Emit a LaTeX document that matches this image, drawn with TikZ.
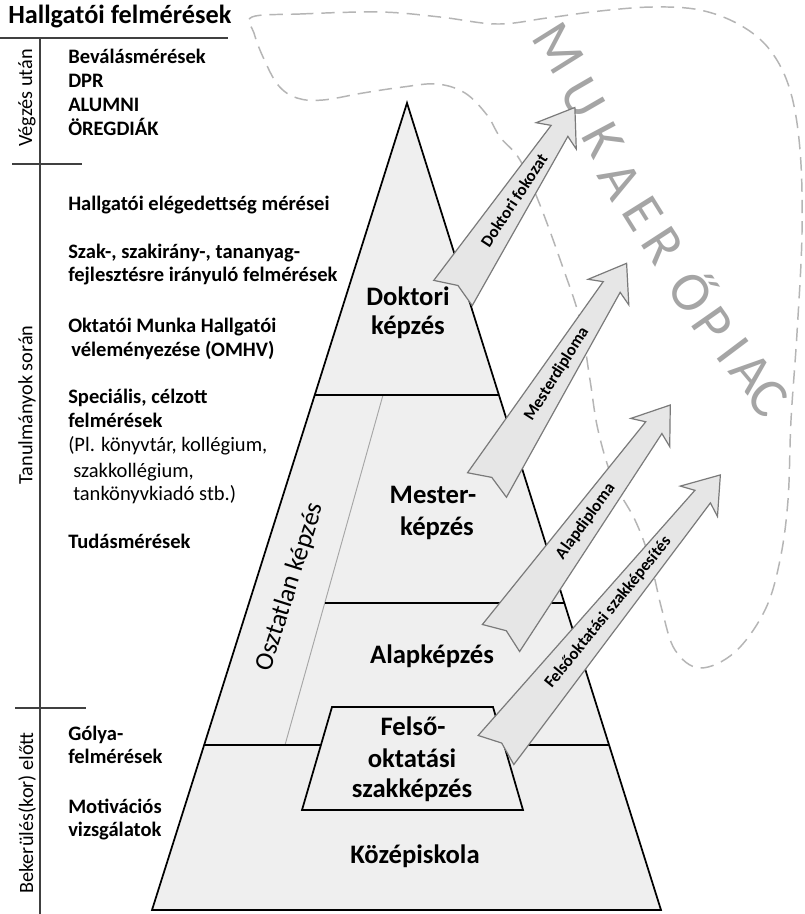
\documentclass[tikz,border=0pt]{standalone}
\usepackage{fontspec}
\setmainfont{Carlito}
\usetikzlibrary{calc}
\definecolor{pyrfill}{HTML}{EFEFEF}
\definecolor{arrfill}{HTML}{E6E6E6}
\definecolor{arrdraw}{HTML}{7A7A7A}
\definecolor{dashc}{HTML}{B5B5B5}
\definecolor{mukac}{HTML}{A5A5A5}
\newcommand\BArrow[5]{%
 \begin{scope}[shift={(#2)},rotate=#3]
  \draw[arrowbox] (0,23) -- (9,0) -- (0,-23) -- ({#4-28},-10) -- ({#4-34},-24) -- (#4,0) -- ({#4-34},24) -- ({#4-28},10) -- cycle;
  \node[arrowlabel,rotate=#3] (#1) at ({#4*0.5},0) {#5};
 \end{scope}}
\begin{document}
\begin{tikzpicture}[x=0.75pt,y=-0.75pt,
  pyr/.style={fill=pyrfill,draw=black,line width=1.3pt,line join=miter},
  level/.style={draw=black,line width=1.3pt},
  innerline/.style={draw=gray!70,line width=0.7pt},
  frame/.style={draw=black!75,line width=0.8pt},
  body/.style={anchor=base west,inner sep=0pt,font=\fontsize{15.4}{18}\selectfont\bfseries},
  bodyr/.style={anchor=base west,inner sep=0pt,font=\fontsize{15.4}{18}\selectfont},
  side/.style={rotate=90,inner sep=0pt,font=\fontsize{15.2}{18}\selectfont},
  titlestyle/.style={anchor=base west,inner sep=0pt,font=\fontsize{19.7}{22}\selectfont\bfseries},
  plab/.style={anchor=base,inner sep=0pt,font=\fontsize{20}{24}\selectfont\bfseries},
  arrowbox/.style={fill=arrfill,draw=arrdraw,line width=0.9pt,line join=miter},
  arrowlabel/.style={inner sep=0pt,font=\fontsize{12.6}{14}\selectfont\bfseries},
  market/.style={text=mukac,inner sep=0pt,font=\fontsize{42}{42}\selectfont,text height=26.5pt,text depth=0pt},
  blob/.style={draw=dashc,line width=1.1pt,dash pattern=on 10pt off 6pt}
]
\fill[white] (0,0) rectangle (804,914);
\useasboundingbox (0,0) rectangle (804,914);

% dashed labour-market region
\draw[blob] plot[smooth cycle, tension=0.6] coordinates {
 (252,17) (300,14) (380,12) (440,17) (497,24) (547,18) (600,11) (653,7)
 (700,10) (740,25) (770,50) (790,90) (800,150) (802,233) (797,333) (791,420)
 (788,500) (780,560) (765,610) (735,652) (700,668) (675,650) (662,610)
 (650,560) (635,520) (613,480) (598,430) (590,380) (580,320) (562,265)
 (540,205) (520,160) (500,137) (487,115) (465,93) (437,84) (403,87)
 (363,93) (323,100) (297,98) (278,85) (263,57) (254,33)};

% MUKAERŐPIAC
\node[market,rotate=-58] (mk1) at (558,48) {M};
\node[market,rotate=-60] (mk2) at (583,98) {U};
\node[market,rotate=-62] (mk3) at (603,140) {K};
\node[market,rotate=-60] (mk4) at (620,181) {A};
\node[market,rotate=-58] (mk5) at (643,214) {E};
\node[market,rotate=-57] (mk6) at (663,246) {R};
\node[market,rotate=-56] (mk7) at (691,293) {Ő};
\node[market,rotate=-55] (mk8) at (712,325) {P};
\node[market,rotate=-53] (mk9) at (733,350) {I};
\node[market,rotate=-50] (mk10) at (751,373) {A};
\node[market,rotate=-48] (mk11) at (768,398) {C};

% pyramid
\coordinate (apex) at (407,103);
\coordinate (bl) at (152,910);
\coordinate (br) at (661,910);
\draw[pyr] (apex) -- (br) -- (bl) -- cycle;
\coordinate (d1) at (315,395); \coordinate (d2) at (499,395);
\coordinate (o1) at (383,395); \coordinate (o2) at (285,745);
\coordinate (m1) at (325,603); \coordinate (m2) at (564,603);
\coordinate (a1) at (205,745); \coordinate (a2) at (609,745);
\draw[innerline] (o1) -- (o2);
\draw[level] (d1) -- (d2);
\draw[level] (m1) -- (m2);
\draw[level] (a1) -- (a2);
\coordinate (f1) at (332,707); \coordinate (f2) at (493,707);
\coordinate (f3) at (523,810); \coordinate (f4) at (302,810);
\draw[pyr] (f1) -- (f2) -- (f3) -- (f4) -- cycle;

% pyramid labels
\node[plab] (dok1) at (408,305) {Doktori};
\node[plab] (dok2) at (408,334) {képzés};
\node[plab] (mes1) at (433,503) {Mester-};
\node[plab] (mes2) at (437,535) {képzés};
\node[plab] (alap) at (432,663) {Alapképzés};
\node[plab] (fel1) at (413,735) {Felső-};
\node[plab] (fel2) at (412,767) {oktatási};
\node[plab] (fel3) at (412,797) {szakképzés};
\node[plab] (kozep) at (415,863) {Középiskola};
\node[rotate=72.4,inner sep=0pt,font=\fontsize{19.5}{23}\selectfont] (oszt) at (290,587) {Osztatlan képzés};

% arrows
\BArrow{ar1}{453,293}{56.7}{222}{Doktori fokozat}
\BArrow{ar2}{487,485}{57.8}{262}{Mesterdiploma}
\BArrow{ar3}{501,638}{54}{288}{Alapdiploma}
\BArrow{ar4}{496,750}{50.8}{355}{Felsőoktatási szakképesítés}

% left frame
\node[titlestyle] (title) at (8,23) {Hallgatói felmérések};
\coordinate (h0) at (0,38); \coordinate (h1) at (228,38);
\coordinate (vt) at (40,38); \coordinate (vb) at (40,914);
\coordinate (t1a) at (12,164); \coordinate (t1b) at (82,164);
\coordinate (t2a) at (15,708); \coordinate (t2b) at (86,708);
\draw[frame] (h0) -- (h1);
\draw[frame] (vt) -- (vb);
\draw[frame] (t1a) -- (t1b);
\draw[frame] (t2a) -- (t2b);

\node[side] (s1) at (27,98) {Végzés után};
\node[side] (s2) at (27,405) {Tanulmányok során};
\node[side] (s3) at (27,813) {Bekerülés(kor) előtt};

\node[body] (b1) at (68,63) {Beválásmérések};
\node[body] (b2) at (68,87) {DPR};
\node[body] (b3) at (68,111) {ALUMNI};
\node[body] (b4) at (68,135) {ÖREGDIÁK};

\node[body] (c1) at (68,210) {Hallgatói elégedettség mérései};
\node[body] (c2) at (68,258) {Szak-, szakirány-, tananyag-};
\node[body] (c3) at (68,281) {fejlesztésre irányuló felmérések};
\node[body] (c4) at (68,332) {Oktatói Munka Hallgatói};
\node[body] (c5) at (71,356) {véleményezése (OMHV)};
\node[body] (c6) at (68,403) {Speciális, célzott};
\node[body] (c7) at (68,427) {felmérések};
\node[bodyr] (c8) at (68,451) {(Pl. könyvtár, kollégium,};
\node[bodyr] (c9) at (73,477) {szakkollégium,};
\node[bodyr] (c10) at (73,500) {tankönyvkiadó stb.)};
\node[body] (c11) at (68,548) {Tudásmérések};

\node[body] (e1) at (68,740) {Gólya-};
\node[body] (e2) at (68,763) {felmérések};
\node[body] (e3) at (68,813) {Motivációs};
\node[body] (e4) at (68,836) {vizsgálatok};
\end{tikzpicture}
\end{document}
